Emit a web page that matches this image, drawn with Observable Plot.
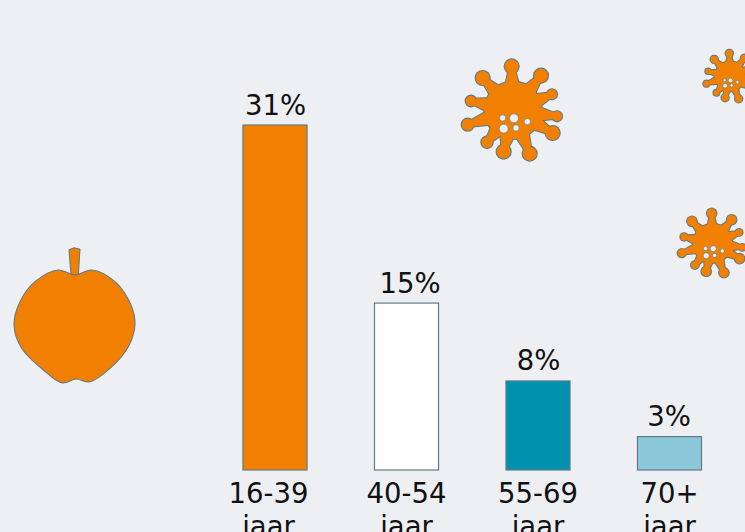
<!DOCTYPE html>
<html>
<head>
<meta charset="utf-8">
<script src="https://cdn.jsdelivr.net/npm/d3@7"></script>
<script src="https://cdn.jsdelivr.net/npm/@observablehq/plot@0.6"></script>
<style>
html,body{margin:0;padding:0;background:#edeff2;overflow:hidden}
svg{display:block}
</style>
</head>
<body>
<div id="chart"></div>
<script>
const categories = ["16-39", "40-54", "55-69", "70+"];
const values = [31, 15, 8, 3];
const colors = ["#f28000", "#ffffff", "#0091ae", "#8cc8da"];
const unit = "jaar";

const edge = "#5f7a86";
const bg = "#edeff2";
const orange = "#f28000";
const ink = "#111111";
const rows = categories.map((c, i) => ({c, v: values[i], fill: colors[i]}));

// Decorative pictograms (local outline coordinates)
const appleBody = [[225,135],[275,120],[345,155],[393,225],[405,285],[385,350],[330,415],[268,456],[228,447],[187,459],[130,420],[65,355],[42,285],[60,215],[105,155],[175,120]];
const appleStem = [[213,134],[207,60],[222,53],[240,58],[235,134]];
const virusBalls = [[184,50,21],[97,85,21],[272,78,21],[305,134,15],[62,154,16],[320,200,15],[52,225,18],[307,250,21],[110,278,17],[160,306,21],[238,312,21]];
const virusHoles = [[157,205,9.5],[191,206,13.5],[231,216,9.5],[160,237,13.5],[197,235,9.5]];
const virusOrigin = [188,175];
const viruses = [[513,108,1],[730,75,0.52],[712.6,241.7,0.68]];

function svgEl(name, attrs, parent){
  const e = document.createElementNS("http://www.w3.org/2000/svg", name);
  for (const k in attrs) e.setAttribute(k, attrs[k]);
  if (parent) parent.appendChild(e);
  return e;
}
function drawVirus(g, cx, cy, s){
  const root = svgEl("g", {transform:`translate(${cx},${cy}) scale(${s/3})`}, g);
  const t = p => [p[0]-virusOrigin[0], p[1]-virusOrigin[1]];
  const pass = (color, extra) => {
    svgEl("circle", {cx:0, cy:7, r:86+extra, fill:color}, root);
    for (const b of virusBalls){
      const [x,y] = t(b);
      const a = Math.atan2(y-7,x);
      const nx = -Math.sin(a), ny = Math.cos(a);
      const w0 = 22+extra, w1 = 7+extra, r0 = 72;
      const bx = r0*Math.cos(a), by = 7+r0*Math.sin(a);
      const d = `M${bx+w0*nx},${by+w0*ny}L${x+w1*nx},${y+w1*ny}L${x-w1*nx},${y-w1*ny}L${bx-w0*nx},${by-w0*ny}Z`;
      svgEl("path", {d, fill:color}, root);
      svgEl("circle", {cx:x, cy:y, r:b[2]+extra, fill:color}, root);
    }
  };
  pass(edge, 3.2/s);
  pass(orange, 0);
  for (const h of virusHoles){
    const [x,y] = t(h);
    svgEl("circle", {cx:x, cy:y, r:h[2], fill:bg, stroke:edge, "stroke-width":2/s}, root);
  }
}
function pictograms(){
  const g = svgEl("g", {"aria-label":"pictograms"});
  const apple = svgEl("g", {transform:"translate(0,230) scale(0.3333)"}, g);
  const closed = d3.line().curve(d3.curveCatmullRomClosed.alpha(0.5));
  svgEl("path", {d:d3.line().curve(d3.curveLinear)(appleStem)+"Z", fill:orange, stroke:edge, "stroke-width":3.2, "stroke-linejoin":"round"}, apple);
  svgEl("path", {d:closed(appleBody), fill:orange, stroke:edge, "stroke-width":3.2}, apple);
  for (const [x,y,s] of viruses) drawVirus(g, x, y, s);
  return g;
}

const tick = (data, dx) => Plot.text(data, {
  x: "c", y: 0, text: d => d.c + "\n" + unit, dx, dy: 9, lineAnchor: "top",
  fontSize: 27.5, lineHeight: 1.21, fill: ink
});
const valueLabel = (data, dx) => Plot.text(data, {
  x: "c", y: "v", text: d => d.v + "%", dx, dy: -11, lineAnchor: "bottom", fontSize: 27.5, fill: ink
});

const plot = Plot.plot({
  width: 745,
  height: 532,
  margin: 0,
  style: {background: bg, fontFamily: "'DejaVu Sans', sans-serif", color: ink},
  x: {domain: categories, range: [209.25, 735.25], paddingInner: 0.513, paddingOuter: 0.2565, align: 0.5, round: false, axis: null},
  y: {domain: [0, 31], range: [470, 125], axis: null},
  color: {type: "identity"},
  marks: [
    Plot.barY(rows, {x: "c", y: "v", fill: "fill", stroke: edge, strokeWidth: 1.2}),
    valueLabel(rows.slice(0, 1), 0),
    valueLabel(rows.slice(1, 2), 3),
    valueLabel(rows.slice(2, 3), 0),
    valueLabel(rows.slice(3), -1),
    tick(rows.slice(0, 1), -7),
    tick(rows.slice(1), -0.5),
    pictograms
  ]
});
document.getElementById("chart").appendChild(plot);
</script>
</body>
</html>
